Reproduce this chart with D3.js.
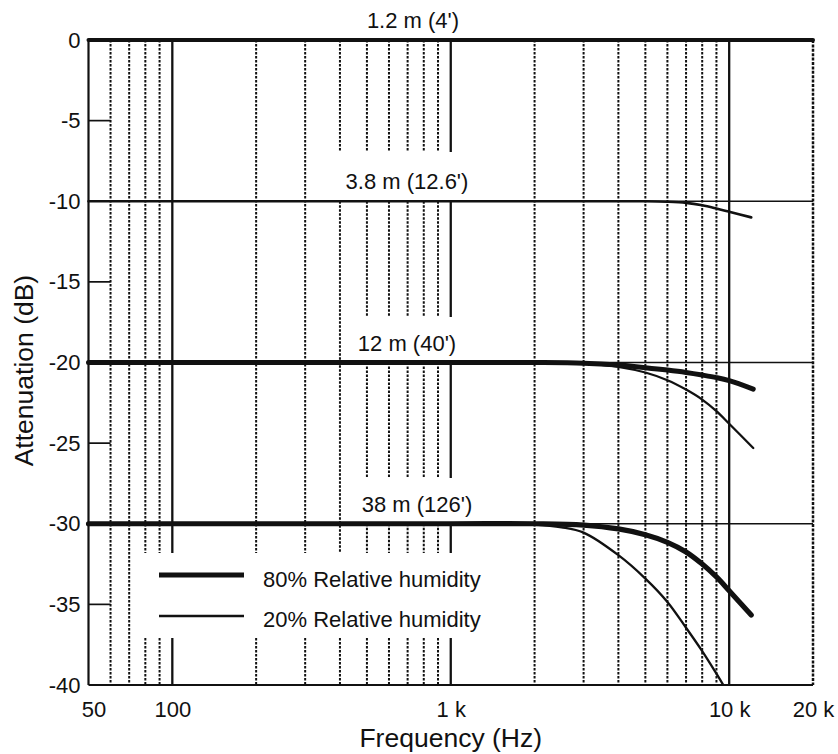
<!DOCTYPE html>
<html>
<head>
<meta charset="utf-8">
<script src="https://cdn.jsdelivr.net/npm/d3@7"></script>
<style>
  html, body { margin: 0; padding: 0; background: #fff; }
  svg { display: block; font-family: "Liberation Sans", Arial, sans-serif; }
</style>
</head>
<body>
<div id="chart"></div>
<script>
// Grid frequencies (Hz)
const gridDotted = [60, 70, 80, 90, 200, 300, 400, 500, 600, 700, 800, 900,
  2000, 3000, 4000, 5000, 6000, 7000, 8000, 9000];
const gridSolid = [100, 1000, 10000];
const gridMajorDb = [-10, -20, -30];
const minorDbTicks = [-5, -15, -25, -35];

const yTickValues = [0, -5, -10, -15, -20, -25, -30, -35, -40];
const xTickValues = [50, 100, 1000, 10000, 20000];
const xTickLabels = ['50', '100', '1 k', '10 k', '20 k'];

// Curves: distance label, frequency (Hz), attenuation (dB)
const dist12 = '1.2 m (4\')';
const freq12 = [50, 20000];
const db12 = [0, 0];

const dist38 = '3.8 m (12.6\')';
const freq38 = [50, 1000, 5000, 6000, 7000, 8000, 9000, 10000, 12000];
const db38 = [-10, -10, -10, -10.03, -10.1, -10.25, -10.45, -10.65, -11.0];

const dist120 = '12 m (40\')';
const freq120_80 = [50, 1000, 2000, 3000, 4000, 5000, 6000, 7000, 8000, 9000, 10000, 12200];
const db120_80 = [-20, -20, -20, -20.04, -20.16, -20.32, -20.47, -20.62, -20.78, -20.94, -21.13, -21.65];
const freq120_20 = [50, 1000, 2500, 3000, 4000, 5000, 6000, 7000, 8000, 9000, 10000, 12200];
const db120_20 = [-20, -20, -20, -20.06, -20.27, -20.62, -21.1, -21.68, -22.3, -23.02, -23.8, -25.3];

const dist380 = '38 m (126\')';
const freq380_80 = [50, 1000, 2000, 3000, 4000, 5000, 6000, 7000, 8000, 9000, 10000, 12000];
const db380_80 = [-30, -30, -30, -30.08, -30.32, -30.68, -31.15, -31.75, -32.5, -33.3, -34.15, -35.66];
const freq380_20 = [50, 1000, 1500, 2000, 2500, 3000, 4000, 5000, 6000, 7000, 8000, 9000, 9600];
const db380_20 = [-30, -30, -30, -30.05, -30.22, -30.55, -31.95, -33.4, -34.85, -36.45, -37.9, -39.3, -40.1];

const legendLabels = ['80% Relative humidity', '20% Relative humidity'];

const W = 838, H = 754;
const ink = '#111';
const fontSize = 22;

const svg = d3.select('#chart').append('svg')
  .attr('width', W).attr('height', H);

const x = d3.scaleLog().domain([50, 20000]).range([88.5, 813]);
const y = d3.scaleLinear().domain([0, -40]).range([40, 685]);

const zip = (f, d) => f.map((v, i) => ({ f: v, db: d[i] }));

// Gaps in the vertical grid around labels and legend (dB ranges)
const gaps = [
  { from: 400, to: 1000, top: y.invert(152), bottom: -10 },
  { from: 500, to: 1000, top: y.invert(317), bottom: -20 },
  { from: 500, to: 1000, top: y.invert(478), bottom: -30 },
  { from: 80, to: 1000, top: y.invert(553), bottom: y.invert(638) }
];

function segmentsFor(f) {
  let segs = [[0, -40]];
  gaps.filter(g => f >= g.from && f <= g.to).forEach(g => {
    const out = [];
    segs.forEach(([a, b]) => {
      if (g.top < a && g.bottom > b) { out.push([a, g.top]); out.push([g.bottom, b]); }
      else out.push([a, b]);
    });
    segs = out;
  });
  return segs;
}

const grid = svg.append('g');

gridDotted.forEach(f => {
  segmentsFor(f).forEach(([a, b]) => {
    grid.append('line')
      .attr('x1', x(f)).attr('x2', x(f))
      .attr('y1', y(a)).attr('y2', y(b))
      .attr('stroke', ink).attr('stroke-width', 2)
      .attr('stroke-dasharray', '2.6,1.4');
  });
});

gridSolid.forEach(f => {
  segmentsFor(f).forEach(([a, b]) => {
    grid.append('line')
      .attr('x1', x(f)).attr('x2', x(f))
      .attr('y1', y(a)).attr('y2', y(b))
      .attr('stroke', ink).attr('stroke-width', 2.3);
  });
});

// Horizontal reference lines
gridMajorDb.forEach(d => {
  grid.append('line')
    .attr('x1', x(50)).attr('x2', x(20000))
    .attr('y1', y(d)).attr('y2', y(d))
    .attr('stroke', ink).attr('stroke-width', 1.5);
});

// Small inner ticks at -5, -15, ...
minorDbTicks.forEach(d => {
  grid.append('line')
    .attr('x1', x(50)).attr('x2', x(60))
    .attr('y1', y(d)).attr('y2', y(d))
    .attr('stroke', ink).attr('stroke-width', 1.7);
});

// Frame
svg.append('line').attr('x1', x(50)).attr('x2', x(50)).attr('y1', y(0)).attr('y2', y(-40))
  .attr('stroke', ink).attr('stroke-width', 2.2);
svg.append('line').attr('x1', x(50)).attr('x2', x(20000)).attr('y1', y(-40)).attr('y2', y(-40))
  .attr('stroke', ink).attr('stroke-width', 2);
svg.append('line').attr('x1', x(20000)).attr('x2', x(20000)).attr('y1', y(0)).attr('y2', y(-40))
  .attr('stroke', ink).attr('stroke-width', 2.5).attr('stroke-dasharray', '3,1.4');

// Curves
const line = d3.line().x(d => x(d.f)).y(d => y(d.db)).curve(d3.curveCatmullRom.alpha(0.5));

const curves = [
  { data: zip(freq12, db12), w: 4 },
  { data: zip(freq38, db38), w: 2.6 },
  { data: zip(freq120_20, db120_20), w: 2.3 },
  { data: zip(freq120_80, db120_80), w: 5 },
  { data: zip(freq380_20, db380_20), w: 2.3 },
  { data: zip(freq380_80, db380_80), w: 5.2 }
];

svg.append('clipPath').attr('id', 'plot')
  .append('rect').attr('x', x(50) - 3).attr('y', y(0) - 4)
  .attr('width', x(20000) - x(50) + 6).attr('height', y(-40) - y(0) + 4);

const cg = svg.append('g').attr('clip-path', 'url(#plot)');
curves.forEach(c => {
  cg.append('path').datum(c.data)
    .attr('fill', 'none').attr('stroke', ink)
    .attr('stroke-width', c.w)
    .attr('stroke-linecap', 'round')
    .attr('d', line);
});

// Curve labels
const labelX = x.invert(410);
[[dist12, 0, 3], [dist38, -10, -3], [dist120, -20, -3], [dist380, -30, 7]].forEach(([t, d, dx]) => {
  svg.append('text')
    .attr('x', x(labelX) + dx).attr('y', y(d) - 12)
    .attr('text-anchor', 'middle')
    .attr('font-size', fontSize).attr('fill', ink)
    .text(t);
});

// Axes
const yAxis = svg.append('g')
  .attr('transform', `translate(${x(50)},0)`)
  .call(d3.axisLeft(y).tickValues(yTickValues).tickSize(0).tickPadding(8)
    .tickFormat(d => d === 0 ? '0' : String(d)));
yAxis.select('.domain').remove();
yAxis.selectAll('text').attr('font-size', fontSize).attr('fill', ink)
  .attr('font-family', '"Liberation Sans", Arial, sans-serif');

const xAxis = svg.append('g')
  .attr('transform', `translate(0,${y(-40)})`)
  .call(d3.axisBottom(x).tickValues(xTickValues).tickSize(0).tickPadding(16)
    .tickFormat((d, i) => xTickLabels[i]));
xAxis.select('.domain').remove();
xAxis.selectAll('text').attr('font-size', fontSize).attr('fill', ink)
  .attr('font-family', '"Liberation Sans", Arial, sans-serif');
xAxis.selectAll('.tick').filter(d => d === 50).select('text').attr('dx', 5);

// Axis titles
svg.append('text')
  .attr('x', x(1000)).attr('y', 747)
  .attr('text-anchor', 'middle')
  .attr('font-size', 26.5).attr('fill', ink)
  .text('Frequency (Hz)');

svg.append('text')
  .attr('transform', `translate(33,${y(-20.5)}) rotate(-90)`)
  .attr('text-anchor', 'middle')
  .attr('font-size', 26.5).attr('fill', ink)
  .text('Attenuation (dB)');

// Legend
const legend = svg.append('g');
[[5, 575, 587], [2.3, 616, 627]].forEach(([w, ly, ty], i) => {
  legend.append('line')
    .attr('x1', 159).attr('x2', 244).attr('y1', ly).attr('y2', ly)
    .attr('stroke', ink).attr('stroke-width', w);
  legend.append('text')
    .attr('x', 263).attr('y', ty)
    .attr('font-size', fontSize).attr('fill', ink)
    .text(legendLabels[i]);
});
</script>
</body>
</html>
